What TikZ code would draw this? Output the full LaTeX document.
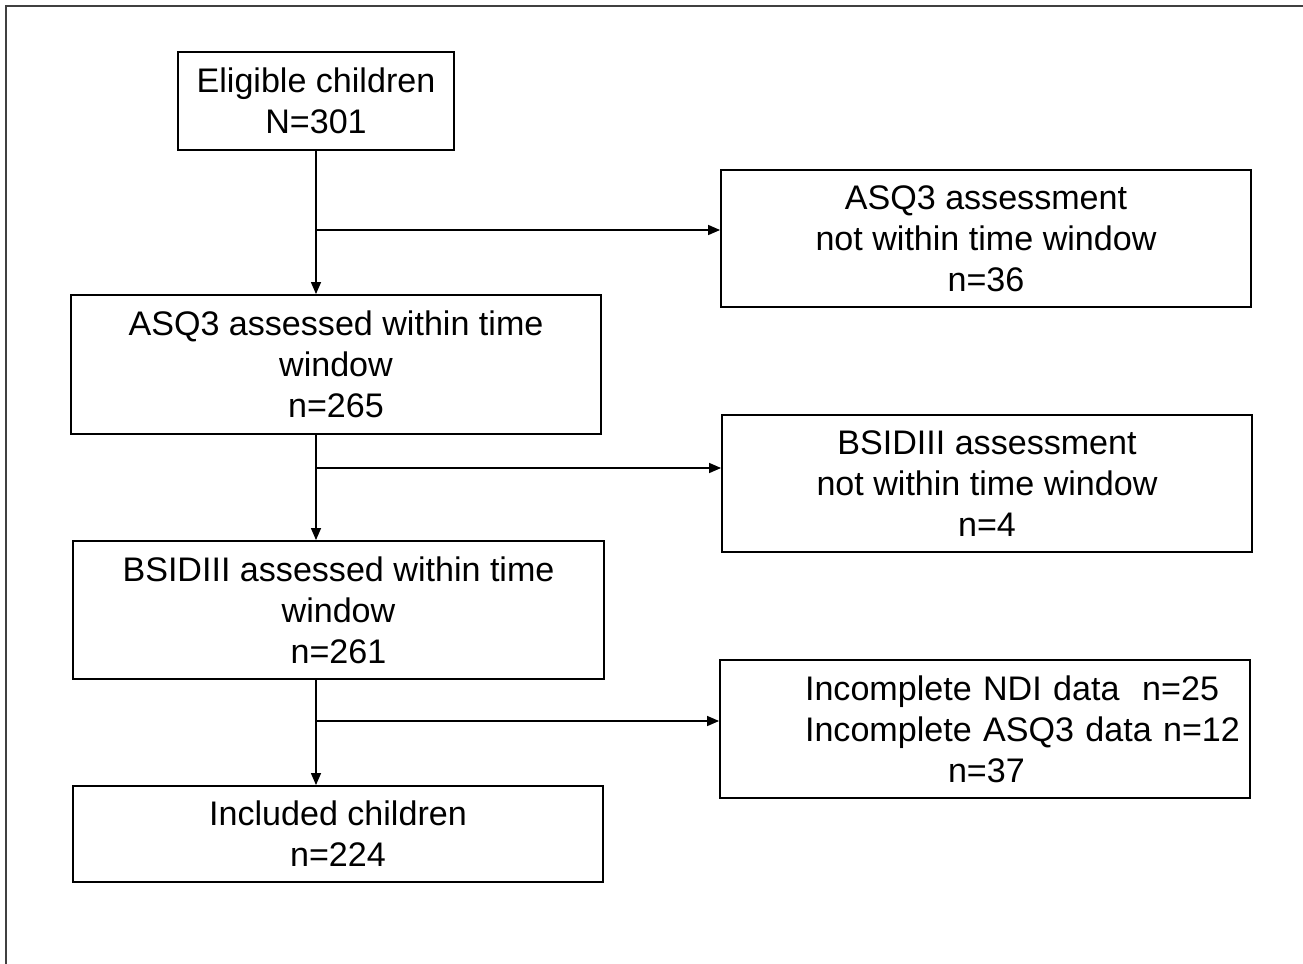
\documentclass[tikz,border=0pt]{standalone}
\usepackage{fontspec}
\setmainfont{Liberation Sans}
\usepackage{tikz}
\usetikzlibrary{arrows.meta}

\tikzset{
  box/.style={draw, line width=1.1pt, align=center, inner sep=0pt,
    font=\fontsize{19.4}{23.3}\selectfont},
  flow/.style={line width=0.8pt, -{Triangle[length=0.24cm, width=0.2cm]}}
}

\begin{document}
\begin{tikzpicture}[x=0.02cm, y=-0.02cm]
\useasboundingbox (0,0) rectangle (1303,964);
\draw [line width=1.1pt, black!75] (6,964) -- (6,6) -- (1303,6);
\path (316,101) node[box, minimum width=5.52cm, minimum height=1.96cm] (elig) {Eligible children\\N=301}
		(986,238.5) node[box, minimum width=10.6cm, minimum height=2.74cm] (asqout) {ASQ3 assessment\\not within time window\\n=36}
		(336,364.5) node[box, minimum width=10.6cm, minimum height=2.78cm] (asqin) {ASQ3 assessed within time\\window\\n=265}
		(987,483.5) node[box, minimum width=10.6cm, minimum height=2.74cm] (bsidout) {BSIDIII assessment\\not within time window\\n=4}
		(338.5,610) node[box, minimum width=10.62cm, minimum height=2.76cm] (bsidin) {BSIDIII assessed within time\\window\\n=261}
		(985,729) node[box, align=left, text width=10.6cm, minimum height=2.76cm] (incomp) {\hspace*{1.7cm}Incomplete NDI data~~n=25\\\hspace*{1.7cm}Incomplete ASQ3 data n=12\\\hspace*{4.56cm}n=37}
		(338,834) node[box, minimum width=10.6cm, minimum height=1.92cm] (incl) {Included children\\n=224}
		;
\coordinate (j1) at (316,230);
\coordinate (j2) at (316,468);
\coordinate (j3) at (316,721);
\draw [flow] (elig.south) -- (elig.south |- asqin.north);
\draw [flow] (j1) -- (j1 -| asqout.west);
\draw [flow] (asqin.south -| j2) -- (j2 |- bsidin.north);
\draw [flow] (j2) -- (j2 -| bsidout.west);
\draw [flow] (bsidin.south -| j3) -- (j3 |- incl.north);
\draw [flow] (j3) -- (j3 -| incomp.west);
\end{tikzpicture}
\end{document}
